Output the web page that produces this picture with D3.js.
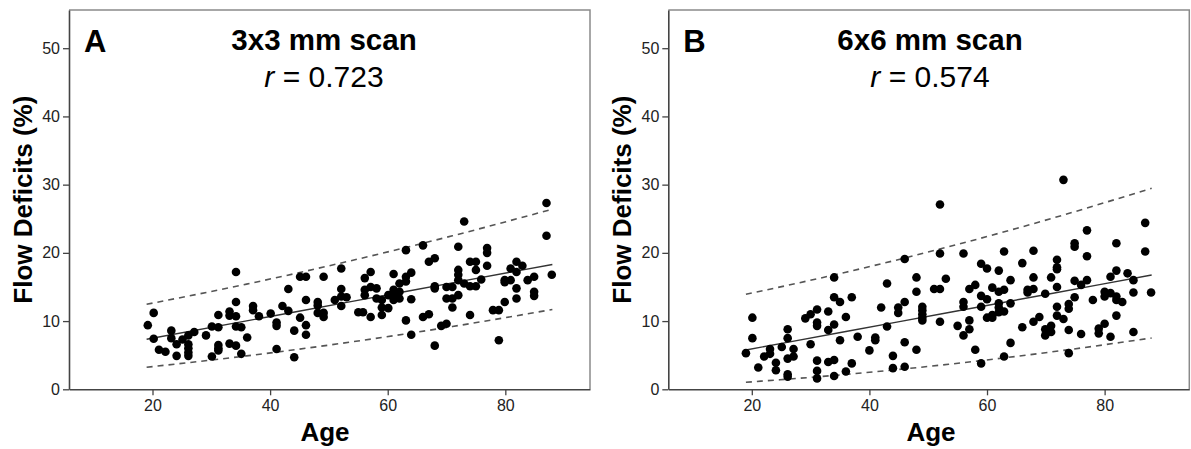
<!DOCTYPE html>
<html>
<head>
<meta charset="utf-8">
<script src="https://cdn.jsdelivr.net/npm/d3@7"></script>
<style>
  body { margin: 0; background: #fff; }
  svg { display: block; font-family: 'Liberation Sans', Arial, Helvetica, sans-serif; }
</style>
</head>
<body>
<svg id="chart" width="1191" height="449"></svg>
<script>
// age, flow deficit (%)
const scatterA = [
  [19.2,9.4],[20.2,11.2],[20.2,7.4],[21.1,5.8],[22.2,5.5],[23.2,8.6],[23.2,7.5],[24.1,6.6],[24.1,4.9],[25.1,7.3],
  [26.1,7.9],[26.1,6.6],[26.1,6.0],[26.1,5.4],[26.1,4.9],[27.1,8.4],[29.1,7.9],[30.1,9.2],[30.1,4.8],[31.2,10.9],
  [31.2,9.1],[31.2,6.5],[31.2,6.0],[31.2,5.7],[33.1,11.4],[33.1,10.8],[33.1,6.7],[34.2,17.2],[34.2,12.8],[34.2,10.7],
  [34.2,9.2],[34.2,6.4],[35.1,9.1],[35.1,5.2],[36.1,7.6],[37.1,12.2],[37.1,11.6],[38.1,10.7],[40.1,11.1],[41.1,9.8],
  [41.1,9.3],[41.1,5.9],[42.1,12.2],[43.1,11.5],[43.1,14.7],[44.1,8.6],[44.1,4.7],[45.1,16.5],[45.1,10.5],[46.1,16.5],
  [46.1,13.1],[46.1,9.4],[46.1,8.0],[48.1,12.8],[48.1,12.3],[48.1,11.2],[49.1,16.5],[49.1,11.2],[49.1,10.6],[51.0,13.1],
  [52.1,17.7],[52.1,14.7],[52.1,13.6],[52.1,12.2],[53.0,13.5],[55.0,11.3],[55.8,11.3],[56.1,16.3],[56.1,14.6],[56.1,13.8],
  [57.1,17.2],[57.1,15.0],[57.1,10.6],[58.1,14.8],[58.1,13.3],[59.0,13.1],[59.0,12.0],[59.0,10.9],[60.1,13.8],[60.1,11.9],
  [61.0,16.9],[61.0,14.6],[61.0,13.8],[61.0,13.1],[62.0,15.5],[62.0,14.3],[62.0,13.3],[63.1,20.4],[63.1,16.5],[63.1,15.8],
  [63.1,10.1],[64.0,17.1],[64.0,13.2],[64.0,8.0],[66.0,21.1],[66.0,10.6],[67.0,11.0],[67.0,18.7],[68.0,19.2],[68.0,15.1],
  [68.0,14.8],[68.0,6.4],[69.1,9.3],[70.0,9.6],[70.0,15.0],[71.0,15.0],[70.0,13.3],[71.0,13.3],[71.0,12.0],[72.0,17.5],
  [72.0,16.8],[72.0,16.0],[72.0,13.8],[72.0,20.9],[73.0,24.6],[73.0,15.5],[74.0,15.1],[75.0,15.1],[74.0,10.9],[74.0,18.7],
  [75.0,18.7],[75.0,17.5],[75.9,16.1],[76.9,20.7],[76.9,20.0],[76.9,18.1],[77.9,11.6],[78.9,11.6],[78.9,7.2],[79.9,16.0],
  [79.9,15.7],[79.9,12.8],[80.9,17.7],[80.9,16.0],[81.9,18.7],[81.9,17.2],[81.9,14.8],[81.9,13.3],[82.9,18.1],[83.8,16.0],
  [84.9,16.5],[84.9,14.3],[84.9,13.7],[87.0,27.3],[87.0,22.5],[87.9,16.8]
]

const scatterB = [
  [19.0,5.3],[20.1,10.5],[20.1,7.5],[21.1,3.2],[22.1,4.8],[23.1,5.9],[23.1,5.2],[24.1,3.9],[24.1,2.8],[25.1,6.2],
  [26.1,8.8],[26.1,7.5],[26.1,4.5],[26.1,2.2],[26.1,1.85],[27.1,5.9],[27.1,4.8],[29.1,10.4],[30.0,11.0],[30.0,6.6],
  [31.1,11.7],[31.1,9.8],[31.1,9.3],[31.1,4.2],[31.1,2.7],[31.1,1.6],[33.0,11.4],[33.0,8.7],[33.0,4.0],[34.0,16.4],
  [34.0,13.5],[34.0,9.5],[34.0,4.3],[34.0,1.95],[35.0,12.8],[35.0,7.2],[36.0,10.6],[36.0,2.6],[37.0,13.5],[37.0,3.8],
  [38.0,7.7],[40.0,5.7],[41.0,7.6],[41.0,7.2],[42.0,12.0],[43.0,15.5],[43.0,9.2],[44.0,4.9],[44.0,3.1],[44.9,12.0],
  [44.9,11.2],[46.0,19.1],[46.0,12.8],[46.0,6.9],[46.0,3.3],[48.0,16.4],[48.0,14.3],[48.0,5.8],[49.0,12.1],[49.0,11.6],
  [49.0,11.0],[49.0,10.5],[49.0,10.1],[51.0,14.7],[52.0,14.7],[52.0,27.1],[52.0,19.9],[52.0,9.9],[53.0,16.2],
  [55.0,9.3],[56.0,19.9],[56.0,12.8],[56.0,12.1],[56.0,7.9],[57.0,14.7],[57.0,10.1],[57.0,8.8],[58.0,15.3],[58.0,5.8],
  [59.0,18.4],[59.0,13.7],[59.0,12.1],[59.0,3.8],[60.0,17.7],[60.0,13.2],[60.0,10.5],[60.9,14.9],[60.9,10.9],[60.9,10.5],
  [62.0,17.4],[62.0,14.3],[62.0,12.6],[62.0,12.0],[62.0,11.3],[62.9,20.2],[62.9,14.6],[62.9,11.4],[62.9,4.8],[64.0,16.0],
  [64.0,12.6],[64.0,6.8],[66.0,18.5],[66.0,9.1],[66.9,14.6],[66.9,14.2],[67.9,20.3],[67.9,16.4],[67.9,14.7],[67.9,9.9],
  [68.9,10.6],[69.9,14.0],[69.9,8.8],[69.9,7.9],[70.9,16.4],[70.9,9.3],[70.9,8.4],[71.9,19.0],[71.9,17.9],[71.9,17.6],
  [71.9,15.0],[71.9,12.1],[71.9,10.8],[73.0,30.7],[73.0,10.3],[73.9,12.5],[73.9,11.8],[73.9,8.7],[73.9,5.3],[74.9,21.4],
  [74.9,20.9],[74.9,15.9],[74.9,13.5],[76.0,15.3],[76.0,8.1],[77.0,23.3],[77.0,19.5],[77.0,16.0],[78.0,13.1],[79.0,8.9],
  [79.0,8.2],[80.0,14.3],[80.0,13.6],[80.0,9.6],[81.0,16.5],[81.0,14.1],[81.0,7.7],[82.0,21.4],[82.0,17.4],[82.0,13.6],
  [82.0,13.1],[82.0,10.8],[83.0,12.8],[83.9,17.0],[84.9,16.0],[84.9,14.2],[84.9,8.4],[86.9,24.4],[86.9,20.2],[87.9,14.2]
]

// fit line and prediction bands, sampled at these ages
const lineAges = [19, 36, 53.5, 71, 88]
const fitA = [7.33, 10.03, 12.82, 15.6, 18.3]
const upperA = [12.46, 15.42, 18.8, 22.5, 26.4]
const lowerA = [3.23, 4.9, 6.9, 9.2, 11.7]
const fitB = [5.76, 8.47, 11.26, 14.05, 16.76]
const upperB = [13.93, 17.16, 20.9, 25.05, 29.47]
const lowerB = [1.03, 2.18, 3.67, 5.48, 7.52]

const xTicks = [20, 40, 60, 80]
const yTicks = [0, 10, 20, 30, 40, 50]
const panelLetters = ['A', 'B']
const scanTitles = ['3x3 mm scan', '6x6 mm scan']
const rValues = ['0.723', '0.574']

const svg = d3.select('#chart')
const plotTop = 10
const plotBottom = 389.3

const panels = [
  { left: 69, right: 590, titleX: 324, scatter: scatterA, fit: fitA, upper: upperA, lower: lowerA },
  { left: 668.3, right: 1189.3, titleX: 930, scatter: scatterB, fit: fitB, upper: upperB, lower: lowerB }
]

const yScale = d3.scaleLinear().domain([0, 55.6]).range([plotBottom, plotTop])

panels.forEach((p, i) => {
  const xScale = d3.scaleLinear().domain([5.8, 94.4]).range([p.left, p.right])
  const g = svg.append('g')

  // frame: top/right lighter
  g.append('path')
    .attr('d', `M${p.left},${plotTop}H${p.right}V${plotBottom}`)
    .attr('fill', 'none')
    .attr('stroke', '#8a8a8a')
    .attr('stroke-width', 1.5)

  const yAxis = g.append('g')
    .attr('transform', `translate(${p.left},0)`)
    .call(d3.axisLeft(yScale).tickValues(yTicks).tickSize(6).tickPadding(3).tickSizeOuter(0))
  const xAxis = g.append('g')
    .attr('transform', `translate(0,${plotBottom})`)
    .call(d3.axisBottom(xScale).tickValues(xTicks).tickSize(6).tickPadding(4).tickSizeOuter(0))

  ;[yAxis, xAxis].forEach(ax => {
    ax.select('.domain').attr('stroke', '#444').attr('stroke-width', 1.6)
    ax.selectAll('.tick line').attr('stroke', '#444').attr('stroke-width', 1.3)
    ax.selectAll('.tick text')
      .attr('fill', '#222')
      .style('font-family', "'Liberation Sans', Arial, sans-serif")
      .style('font-size', '16px')
  })

  const line = d3.line()
    .x((d, j) => xScale(lineAges[j]))
    .y(d => yScale(d))
    .curve(d3.curveMonotoneX)

  ;[p.upper, p.lower].forEach(band => {
    g.append('path')
      .attr('d', line(band))
      .attr('fill', 'none')
      .attr('stroke', '#555')
      .attr('stroke-width', 1.6)
      .attr('stroke-dasharray', '6,5')
  })

  g.append('path')
    .attr('d', line(p.fit))
    .attr('fill', 'none')
    .attr('stroke', '#333')
    .attr('stroke-width', 1.4)

  g.selectAll('circle')
    .data(p.scatter)
    .enter()
    .append('circle')
    .attr('cx', d => xScale(d[0]))
    .attr('cy', d => yScale(d[1]))
    .attr('r', 4.3)
    .attr('fill', '#000')

  g.append('text')
    .text(panelLetters[i])
    .attr('x', p.left + 15)
    .attr('y', 51.5)
    .style('font-size', '31px')
    .style('font-weight', 'bold')

  g.append('text')
    .text(scanTitles[i])
    .attr('x', p.titleX)
    .attr('y', 50)
    .attr('text-anchor', 'middle')
    .style('font-size', '29.5px')
    .style('font-weight', 'bold')

  const rText = g.append('text')
    .attr('x', p.titleX)
    .attr('y', 87)
    .attr('text-anchor', 'middle')
    .style('font-size', '30px')
  rText.append('tspan').text('r').style('font-style', 'italic')
  rText.append('tspan').text(' = ' + rValues[i])

  g.append('text')
    .text('Flow Deficits (%)')
    .attr('transform', `translate(${p.left - 37},${(plotTop + plotBottom) / 2}) rotate(-90)`)
    .attr('text-anchor', 'middle')
    .style('font-size', '26px')
    .style('font-weight', 'bold')

  g.append('text')
    .text('Age')
    .attr('x', p.titleX + 1)
    .attr('y', 441)
    .attr('text-anchor', 'middle')
    .style('font-size', '26px')
    .style('font-weight', 'bold')
})
</script>
</body>
</html>
